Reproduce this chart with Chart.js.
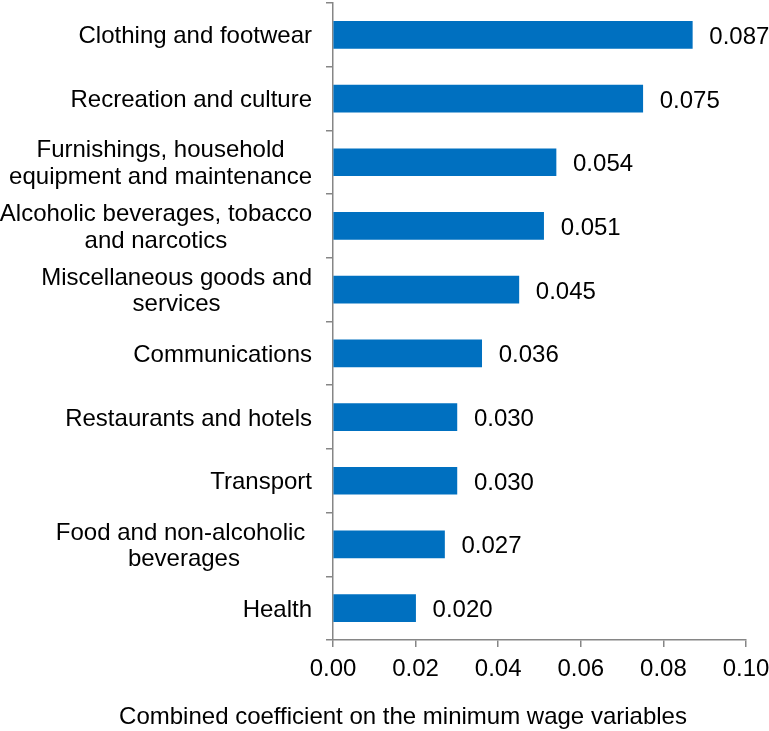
<!DOCTYPE html>
<html>
<head>
<meta charset="utf-8">
<script src="https://cdn.jsdelivr.net/npm/chart.js@4.4.1/dist/chart.umd.min.js"></script>
<style>
    body { margin: 0; background: #fff; }
    canvas { display: block; }
</style>
</head>
<body>
<canvas id="chart" width="769" height="731"></canvas>
<script>
// categories, top to bottom (multi-line labels as arrays of lines)
const categories = [
    ["Clothing and footwear"],
    ["Recreation and culture"],
    ["Furnishings, household", "equipment and maintenance"],
    ["Alcoholic beverages, tobacco", "and narcotics"],
    ["Miscellaneous goods and", "services"],
    ["Communications"],
    ["Restaurants and hotels"],
    ["Transport"],
    ["Food and non-alcoholic ", "beverages"],
    ["Health"],
];
const coefficients = [0.087, 0.075, 0.054, 0.051, 0.045, 0.036, 0.030, 0.030, 0.027, 0.020];
const xTicks = [0, 0.02, 0.04, 0.06, 0.08, 0.1];
const axisTitle = "Combined coefficient on the minimum wage variables";

const FONT = '"Liberation Sans", Arial, sans-serif';
const AXIS_GREY = "#868686";

// draws category labels, value labels and the axis title
const textPlugin = {
    id: "textPlugin",
    afterDraw(chart) {
        const ctx = chart.ctx;
        const yScale = chart.scales.y;
        const bars = chart.getDatasetMeta(0).data;

        ctx.save();
        ctx.font = "24px " + FONT;
        ctx.fillStyle = "#000";
        ctx.textBaseline = "alphabetic";

        const labelRight = 312;
        const lineGap = 26.6;

        categories.forEach((lines, i) => {
            const cy = yScale.getPixelForValue(i);
            const blockW = Math.max(...lines.map((l) => ctx.measureText(l).width));
            const cx = labelRight - blockW / 2;
            ctx.textAlign = "center";
            lines.forEach((line, j) => {
                const ly = cy + 8.5 + (j - (lines.length - 1) / 2) * lineGap;
                ctx.fillText(line, cx, ly);
            });

            ctx.textAlign = "left";
            ctx.fillText(coefficients[i].toFixed(3), bars[i].x + 17, cy + 9);
        });

        ctx.textAlign = "center";
        ctx.fillText(axisTitle, 403, 724);
        ctx.restore();
    },
};

const ctx = document.getElementById("chart").getContext("2d");
new Chart(ctx, {
    type: "bar",
    data: {
        labels: categories,
        datasets: [
            {
                data: coefficients,
                backgroundColor: "#0070C0",
                borderWidth: 0,
                barThickness: 27,
            },
        ],
    },
    options: {
        indexAxis: "y",
        responsive: false,
        animation: false,
        devicePixelRatio: 1,
        layout: { padding: { top: 3, right: 23, left: 0, bottom: 0 } },
        plugins: {
            legend: { display: false },
            tooltip: { enabled: false },
        },
        scales: {
            x: {
                min: 0,
                max: 0.1,
                afterBuildTicks: (scale) => {
                    scale.ticks = xTicks.map((v) => ({ value: v }));
                },
                afterFit: (scale) => {
                    scale.height = 91;
                    scale.paddingLeft = 0;
                    scale.paddingRight = 0;
                },
                ticks: {
                    color: "#000",
                    font: { family: FONT, size: 24 },
                    padding: 8,
                    maxRotation: 0,
                    callback: (v) => Number(v).toFixed(2),
                },
                grid: {
                    drawOnChartArea: false,
                    drawTicks: true,
                    tickLength: 7,
                    color: AXIS_GREY,
                    lineWidth: 1.5,
                },
                border: { color: AXIS_GREY, width: 1.5 },
            },
            y: {
                afterFit: (scale) => {
                    scale.width = 333;
                },
                ticks: { display: false },
                grid: {
                    drawOnChartArea: false,
                    drawTicks: true,
                    tickLength: 7,
                    color: AXIS_GREY,
                    lineWidth: 1.5,
                },
                border: { color: AXIS_GREY, width: 1.5 },
            },
        },
    },
    plugins: [textPlugin],
});
</script>
</body>
</html>
